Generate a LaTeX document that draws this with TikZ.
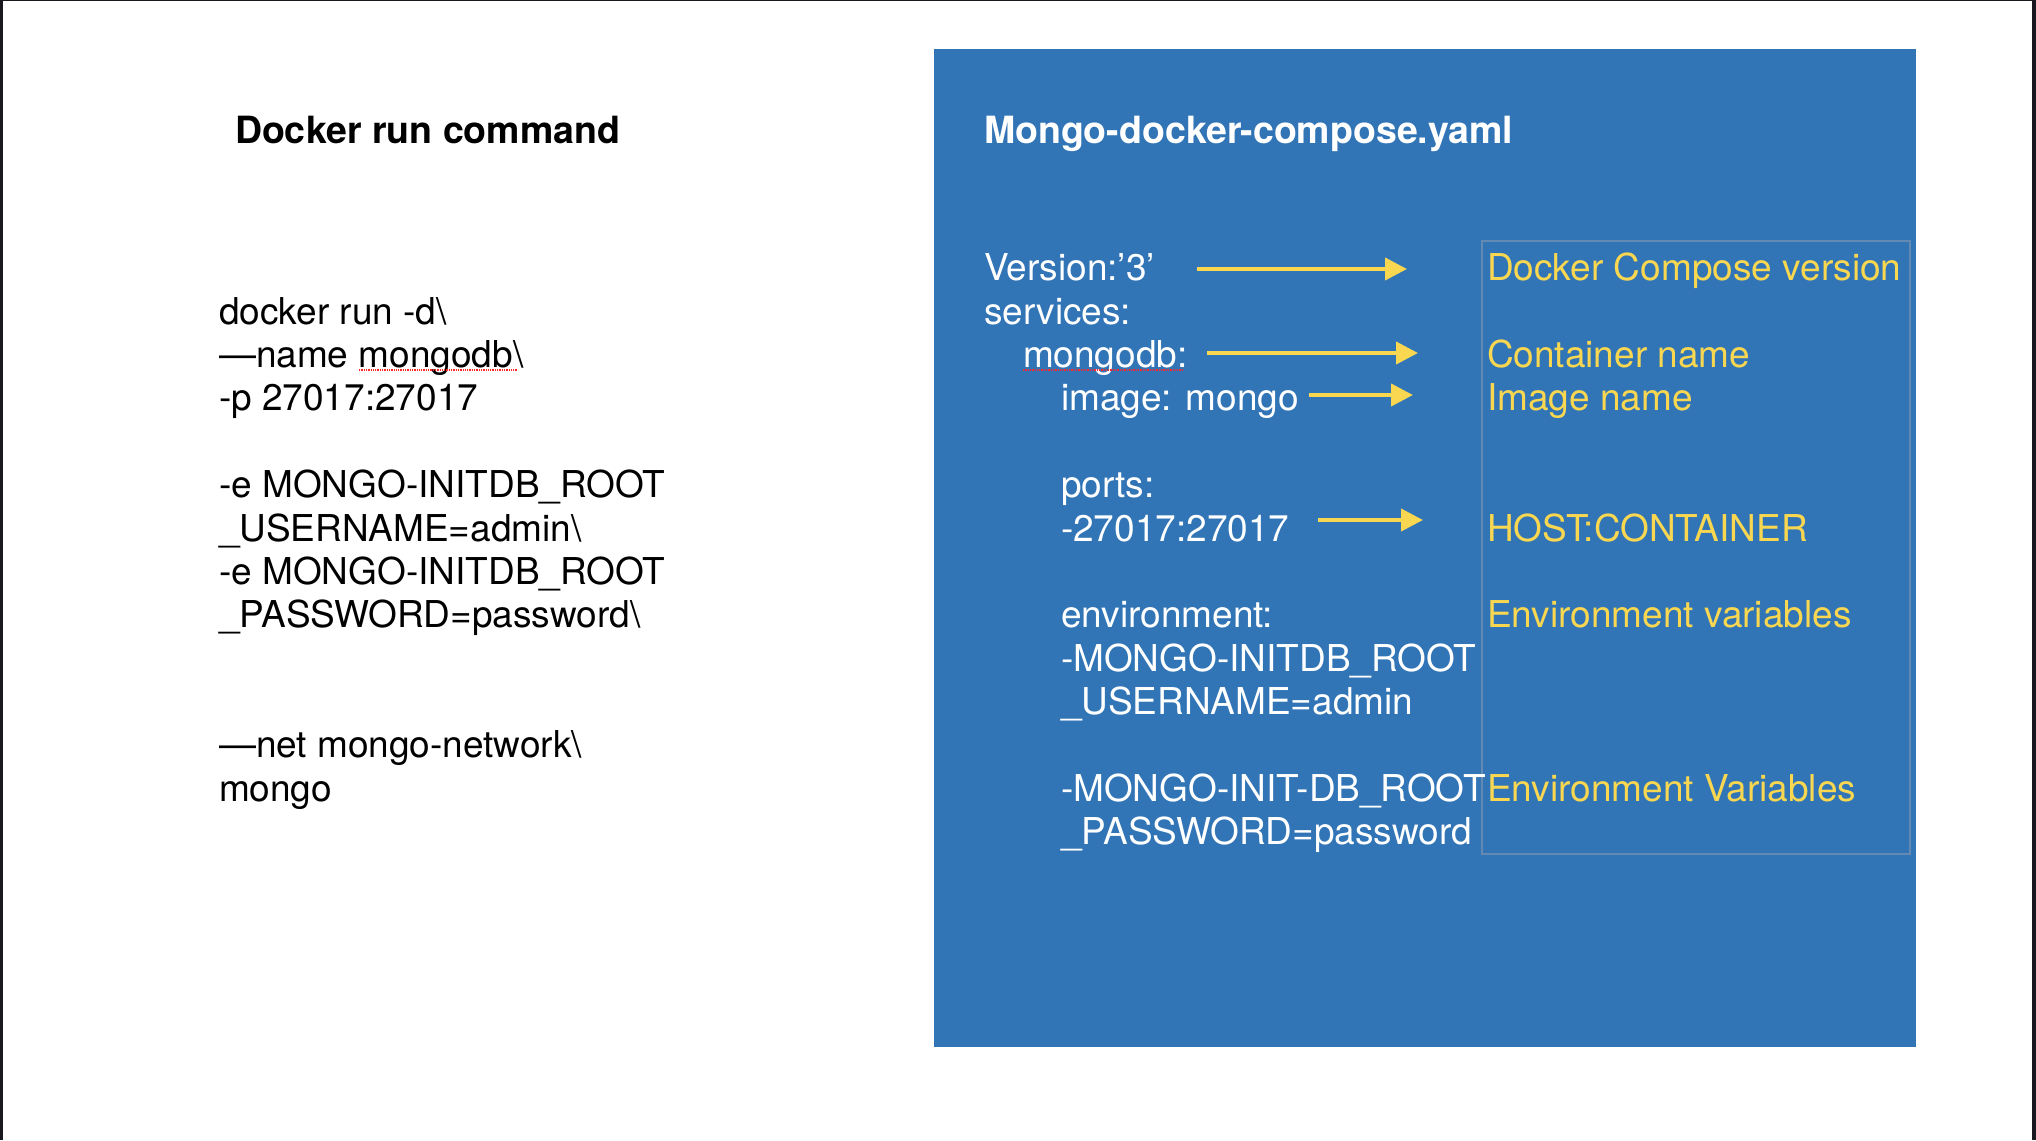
\documentclass[tikz,border=0pt]{standalone}
\usepackage{fontspec}
\setmainfont{TeX Gyre Heros}
\usetikzlibrary{arrows.meta}
\definecolor{panelblue}{RGB}{49,117,182}
\definecolor{labelyellow}{RGB}{250,215,80}
\definecolor{boxline}{RGB}{100,138,180}
\definecolor{frameblack}{RGB}{24,24,30}
\tikzset{
  txt/.style={anchor=base west, inner sep=0pt, outer sep=0pt, font=\fontsize{37}{44}\selectfont},
  ttl/.style={anchor=base west, inner sep=0pt, outer sep=0pt, font=\fontsize{37.5}{44}\selectfont\bfseries},
  blk/.style={txt, text=black},
  wht/.style={txt, text=white},
  ylw/.style={txt, text=labelyellow},
  yarrow/.style={draw=labelyellow, line width=4pt, -{Triangle[length=22pt,width=22pt]}},
  spell/.style={draw=red!85!white, densely dotted, line width=1.3pt}
}
\begin{document}
\begin{tikzpicture}[x=1pt, y=-1pt]
\useasboundingbox (0,0) rectangle (2036,1140);
\fill[white] (0,0) rectangle (2036,1140);
% frame strips
\fill[frameblack] (0,0) rectangle (3,1140);
\fill[frameblack] (0,0) rectangle (2036,1.5);
\fill[frameblack] (2032,0) rectangle (2036,1140);
% blue panel
\fill[panelblue] (934,49) rectangle (1916,1047);
\draw[boxline, line width=1.6pt] (1482,241) rectangle (1910,854);

% left column
\node[ttl, text=black] (ltitle) at (235,143) {Docker run command};
\node[blk] (l0) at (219,324.2) {docker run -d\textbackslash};
\node[blk] (l1) at (219,367.6) {—name mongodb\textbackslash};
\node[blk] (l2) at (219,410.9) {-p 27017:27017};
\node[blk] (l4) at (219,497.7) {-e MONGO-INITDB\_ROOT};
\node[blk] (l5) at (219,541.0) {\_USERNAME=admin\textbackslash};
\node[blk] (l6) at (219,584.4) {-e MONGO-INITDB\_ROOT};
\node[blk] (l7) at (219,627.8) {\_PASSWORD=password\textbackslash};
\node[blk] (l10) at (219,757.9) {—net mongo-network\textbackslash};
\node[blk] (l11) at (219,801.3) {mongo};
\coordinate (sp1a) at (359,370);
\coordinate (sp1b) at (517,370);
\draw[spell] (sp1a) -- (sp1b);

% right column
\node[ttl, text=white] (rtitle) at (984,143) {Mongo-docker-compose.yaml};
\node[wht] (r0) at (984,280.8) {Version:’3’};
\node[wht] (r1) at (984,324.2) {services:};
\node[wht] (r2) at (1023,367.5) {mongodb:};
\node[wht] (r3) at (1061,410.9) {image: mongo};
\node[wht] (r5) at (1061,497.7) {ports:};
\node[wht] (r6) at (1061,541.0) {-27017:27017};
\node[wht] (r8) at (1061,627.8) {environment:};
\node[wht] (r9) at (1061,671.1) {-MONGO-INITDB\_ROOT};
\node[wht] (r10) at (1061,714.5) {\_USERNAME=admin};
\node[wht] (r12) at (1061,801.2) {-MONGO-INIT-DB\_ROOT};
\node[wht] (r13) at (1061,844.6) {\_PASSWORD=password};
\coordinate (sp2a) at (1023,370);
\coordinate (sp2b) at (1182,370);
\draw[spell] (sp2a) -- (sp2b);

% yellow labels
\node[ylw] (y0) at (1487,280.8) {Docker Compose version};
\node[ylw] (y2) at (1487,367.5) {Container name};
\node[ylw] (y3) at (1487,410.9) {Image name};
\node[ylw] (y6) at (1487,541.0) {HOST:CONTAINER};
\node[ylw] (y8) at (1487,627.8) {Environment variables};
\node[ylw] (y12) at (1487,801.2) {Environment Variables};

% arrows
\coordinate (a0s) at (1197,269);
\coordinate (a0e) at (1407,269);
\coordinate (a2s) at (1207,353);
\coordinate (a2e) at (1418,353);
\coordinate (a3s) at (1309,395);
\coordinate (a3e) at (1413,395);
\coordinate (a6s) at (1318,520);
\coordinate (a6e) at (1423,520);
\draw[yarrow] (a0s) -- (a0e);
\draw[yarrow] (a2s) -- (a2e);
\draw[yarrow] (a3s) -- (a3e);
\draw[yarrow] (a6s) -- (a6e);
\end{tikzpicture}
\end{document}
